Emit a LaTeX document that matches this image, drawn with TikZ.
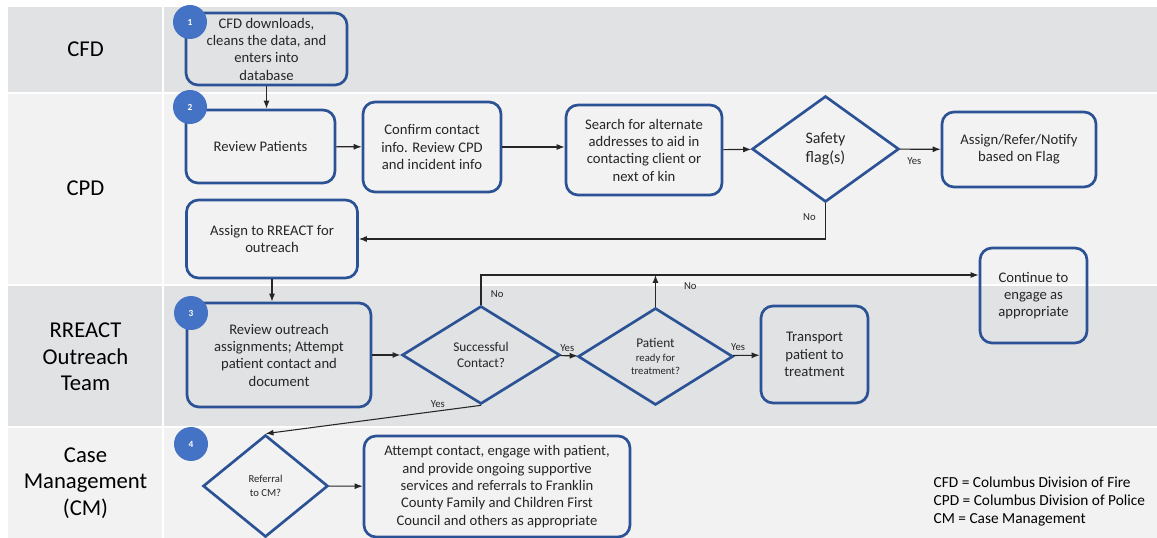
\documentclass[tikz,border=0pt]{standalone}
\usepackage{fontspec}
\setmainfont{Carlito}
\usepackage{tikz}
\usetikzlibrary{shapes.geometric, arrows.meta}
\usepackage{xcolor}
\definecolor{laneGray}{RGB}{224,226,227}
\definecolor{laneLight}{RGB}{242,242,242}
\definecolor{boxBlue}{RGB}{44,82,150}
\definecolor{stepBlue}{RGB}{68,114,196}
\definecolor{inkGray}{RGB}{38,38,38}

\begin{document}
\begin{tikzpicture}[x=0.75pt, y=-0.75pt, >={Latex[length=6pt,width=4.5pt]}]

  \tikzstyle{task} = [rectangle, rounded corners=9pt, draw=boxBlue, line width=2pt, align=center, inner sep=1pt, text=inkGray, font=\fontsize{11}{13}\selectfont];
  \tikzstyle{decision} = [diamond, draw=boxBlue, line width=2pt, align=center, inner sep=0pt, text=inkGray, font=\fontsize{10}{12}\selectfont];
  \tikzstyle{badge} = [circle, fill=stepBlue, text=white, minimum size=25.5pt, inner sep=0pt, font=\fontsize{7}{8}\selectfont\bfseries];
  \tikzstyle{lanelabel} = [align=center, text=black, font=\fontsize{17}{20}\selectfont];
  \tikzstyle{flow} = [->, line width=0.8pt, draw=inkGray];
  \tikzstyle{answer} = [inner sep=1pt, text=inkGray, font=\fontsize{8}{9}\selectfont];

  \useasboundingbox (0,0) rectangle (1157,538);
  \fill[white] (0,0) rectangle (1157,538);
  \foreach \top/\bot/\col in {7/92/laneGray, 94/284/laneLight, 286/426/laneGray, 428/538/laneLight} {
    \fill[\col] (8,\top) rectangle (162,\bot);
    \fill[\col] (164,\top) rectangle (1157,\bot);
  }

  \node[lanelabel] (cfd) at (85.5,49.5) {CFD};
  \node[lanelabel] (cpd) at (85.5,188.5) {CPD};
  \node[lanelabel] (rreact) at (85.5,357) {RREACT\\Outreach\\Team};
  \node[lanelabel] (cm) at (85.5,483) {Case\\Management\\(CM)};

  \node[task, minimum width=120.75pt, minimum height=54pt] (download) at (266.5,49) {CFD downloads,\\cleans the data, and\\enters into\\database};
  \node[task, minimum width=111.75pt, minimum height=54.75pt] (review) at (260.5,146.5) {Review Patients};
  \node[task, minimum width=103.5pt, minimum height=67.5pt] (confirm) at (432,147) {Confirm contact\\info. Review CPD\\and incident info};
  \node[task, minimum width=117pt, minimum height=67.5pt] (search) at (644,150) {Search for alternate\\addresses to aid in\\contacting client or\\next of kin};
  \node[decision, minimum width=110.25pt, minimum height=79.5pt, font=\fontsize{12}{14}\selectfont] (safety) at (825.5,149) {Safety\\flag(s)};
  \node[task, minimum width=115.5pt, minimum height=56.25pt] (notify) at (1019,149.5) {Assign/Refer/Notify\\based on Flag};
  \node[task, minimum width=128.25pt, minimum height=58.5pt] (assign) at (272,239) {Assign to RREACT for\\outreach};

  \node[task, minimum width=138pt, minimum height=78pt] (outreach) at (279,355) {Review outreach\\assignments; Attempt\\patient contact and\\document};
  \node[decision, minimum width=118.5pt, minimum height=73.5pt] (contact) at (481,355) {Successful\\Contact?};
  \node[decision, minimum width=116.25pt, minimum height=72.75pt] (ready) at (655.5,356.5) {Patient\\[-2pt]{\fontsize{8}{11}\selectfont ready for}\\[-2pt]{\fontsize{8}{11}\selectfont treatment?}};
  \node[task, minimum width=80.25pt, minimum height=72.75pt] (transport) at (814.5,354.5) {Transport\\patient to\\treatment};
  \node[task, minimum width=80.25pt, minimum height=71.25pt] (engage) at (1033.5,295.5) {Continue to\\engage as\\appropriate};

  \node[decision, minimum width=93.75pt, minimum height=76.5pt, font=\fontsize{8}{10}\selectfont] (referral) at (265.5,486) {Referral\\to CM?};
  \node[task, minimum width=199.5pt, minimum height=75.75pt] (support) at (497,486.5) {Attempt contact, engage with patient,\\and provide ongoing supportive\\services and referrals to Franklin\\County Family and Children First\\Council and others as appropriate};

  \node[align=left, anchor=west, text=black, font=\fontsize{11.5}{13.5}\selectfont] (legend) at (929,501) {CFD = Columbus Division of Fire\\CPD = Columbus Division of Police\\CM = Case Management};

  \node[badge] (step1) at (190,22) {1};
  \node[badge] (step2) at (190,107) {2};
  \node[badge] (step3) at (191,313) {3};
  \node[badge] (step4) at (191,444) {4};

  \coordinate (loop) at (481,275);

  \draw[flow] (download) -- (download |- review.north);
  \draw[flow] (review) -- (confirm);
  \draw[flow] (confirm) -- (confirm -| search.west);
  \draw[flow] (search) -- (safety);
  \draw[flow] (safety) -- node[answer, pos=0.35, below=5pt] (yes1) {Yes} (notify);
  \draw[flow] (safety.south) |- node[answer, pos=0.2, left=6pt] (no1) {No} (assign.east);
  \draw[flow] (assign) -- (assign |- outreach.north);
  \draw[->, line width=1.5pt, draw=inkGray] (outreach) -- (contact);
  \draw[flow] (contact.north) -- node[answer, pos=0.35, right=6pt] (no2) {No} (loop) -- (loop -| engage.west);
  \draw[flow] (contact) -- node[answer, pos=0.4, above=2pt] (yes2) {Yes} (ready);
  \draw[flow] (ready.north) -- node[answer, pos=0.65, right=20pt] (no3) {No} (ready.north |- loop);
  \draw[flow] (ready) -- node[answer, pos=0.2, above=2pt] (yes3) {Yes} (transport);
  \draw[flow] (contact.south) -- node[answer, pos=0.2, above=1pt] (yes4) {Yes} (referral.north);
  \draw[flow] (referral) -- (support);
\end{tikzpicture}
\end{document}
